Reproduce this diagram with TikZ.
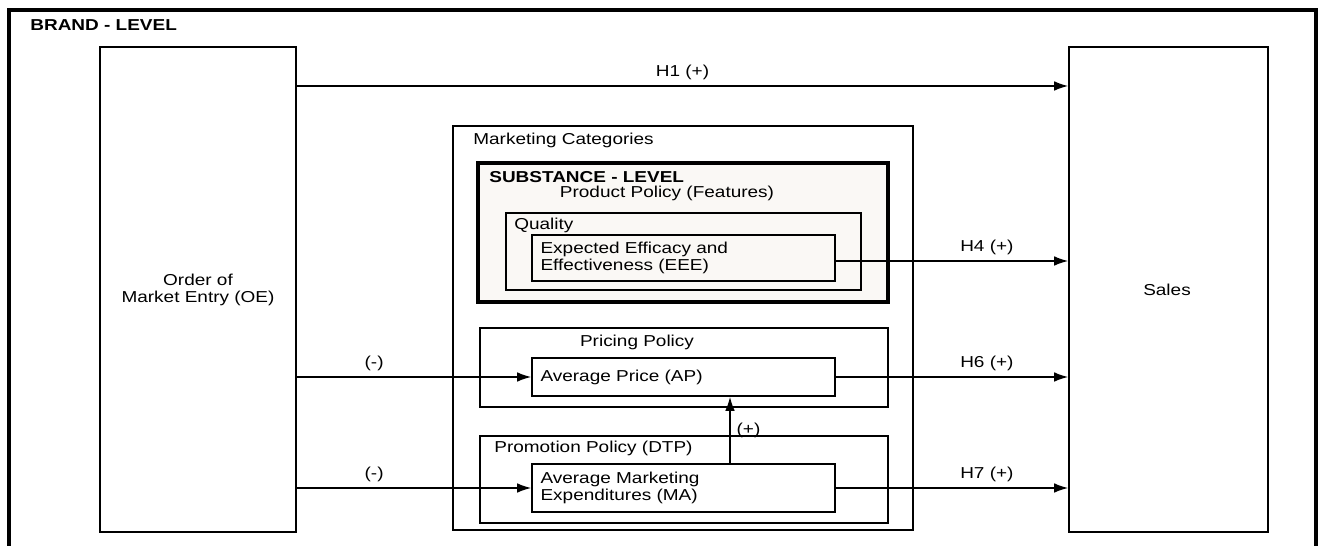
\documentclass[tikz,border=0pt]{standalone}
\usepackage{fontspec}
\setmainfont[FakeStretch=1.2]{Liberation Sans}
\usetikzlibrary{arrows.meta, positioning, fit}
\definecolor{subfill}{RGB}{250,248,245}

\begin{document}
\begin{tikzpicture}[x=0.02cm, y=-0.02cm, >={Latex[length=8pt,width=5.5pt]},
    font=\fontsize{9}{9.6}\selectfont,
    box/.style={draw, line width=0.9pt, inner sep=0pt},
    heavy/.style={draw, line width=2.3pt, inner sep=0pt, fill=subfill},
    txt/.style={inner sep=0pt, align=left},
    boldtxt/.style={txt, font=\fontsize{9}{9.6}\selectfont\bfseries},
    link/.style={->, line width=0.9pt}]
	\useasboundingbox (0,0) rectangle (1321,546);
	% brand level frame, open at the bottom
	\draw[line width=2.3pt] (9,546) -- (9,10) -- (1316,10) -- (1316,546);
	\node[boldtxt, anchor=west] (brand) at (30,25) {BRAND - LEVEL};

	\node[box, fit={(100,47) (296,532)}] (oe) {};
	\node[txt, align=center] (oetxt) at (198,290) {Order of\\Market Entry (OE)};
	\node[box, fit={(1069,47) (1268,532)}] (sales) {};
	\node[txt] (salestxt) at (1167,290) {Sales};

	% marketing categories
	\node[box, fit={(453,126) (913,530)}] (mkt) {};
	\node[txt, anchor=west] (mkttxt) at (473,140) {Marketing Categories};

	\node[heavy, fit={(478,163) (888,302)}] (subst) {};
	\node[boldtxt, anchor=west] (substtxt) at (489,177) {SUBSTANCE - LEVEL};
	\node[txt] (prodtxt) at (667,193) {Product Policy (Features)};
	\node[box, fit={(506,213) (861,290)}] (quality) {};
	\node[txt, anchor=west] (qualtxt) at (514,225) {Quality};
	\node[box, fit={(532,235) (835,281)}] (eee) {};
	\node[txt, right=0.18cm of eee.west] (eeetxt) {Expected Efficacy and\\Effectiveness (EEE)};

	\node[box, fit={(480,328) (888,407)}] (pricing) {};
	\node[txt] (pricetxt) at (637,342) {Pricing Policy};
	\node[box, fit={(532,358) (835,396)}] (ap) {};
	\node[txt, right=0.18cm of ap.west] (aptxt) {Average Price (AP)};

	\node[box, fit={(480,436) (888,523)}] (promo) {};
	\node[txt, anchor=west] (promotxt) at (494,448) {Promotion Policy (DTP)};
	\node[box, fit={(532,464) (835,512)}] (ma) {};
	\node[txt, right=0.18cm of ma.west] (matxt) {Average Marketing\\Expenditures (MA)};

	% hypotheses
	\coordinate (h1) at (0,86);
	\coordinate (h4) at (0,261);
	\coordinate (vx) at (730,0);
	\draw[link] (oe.east |- h1) -- node[above] (l1) {H1 (+)} (sales.west |- h1);
	\draw[link] (eee.east |- h4) -- node[above, pos=0.65] (l4) {H4 (+)} (sales.west |- h4);
	\draw[link] (ap.east) -- node[above, pos=0.65] (l6) {H6 (+)} (sales.west |- ap.east);
	\draw[link] (ma.east) -- node[above, pos=0.65] (l7) {H7 (+)} (sales.west |- ma.east);
	\draw[link] (oe.east |- ap.west) -- node[above, pos=0.33] (lp) {(-)} (ap.west);
	\draw[link] (oe.east |- ma.west) -- node[above, pos=0.33] (lm) {(-)} (ma.west);
	\draw[link] (ma.north -| vx) -- node[right] (lv) {(+)} (ap.south -| vx);
\end{tikzpicture}
\end{document}
